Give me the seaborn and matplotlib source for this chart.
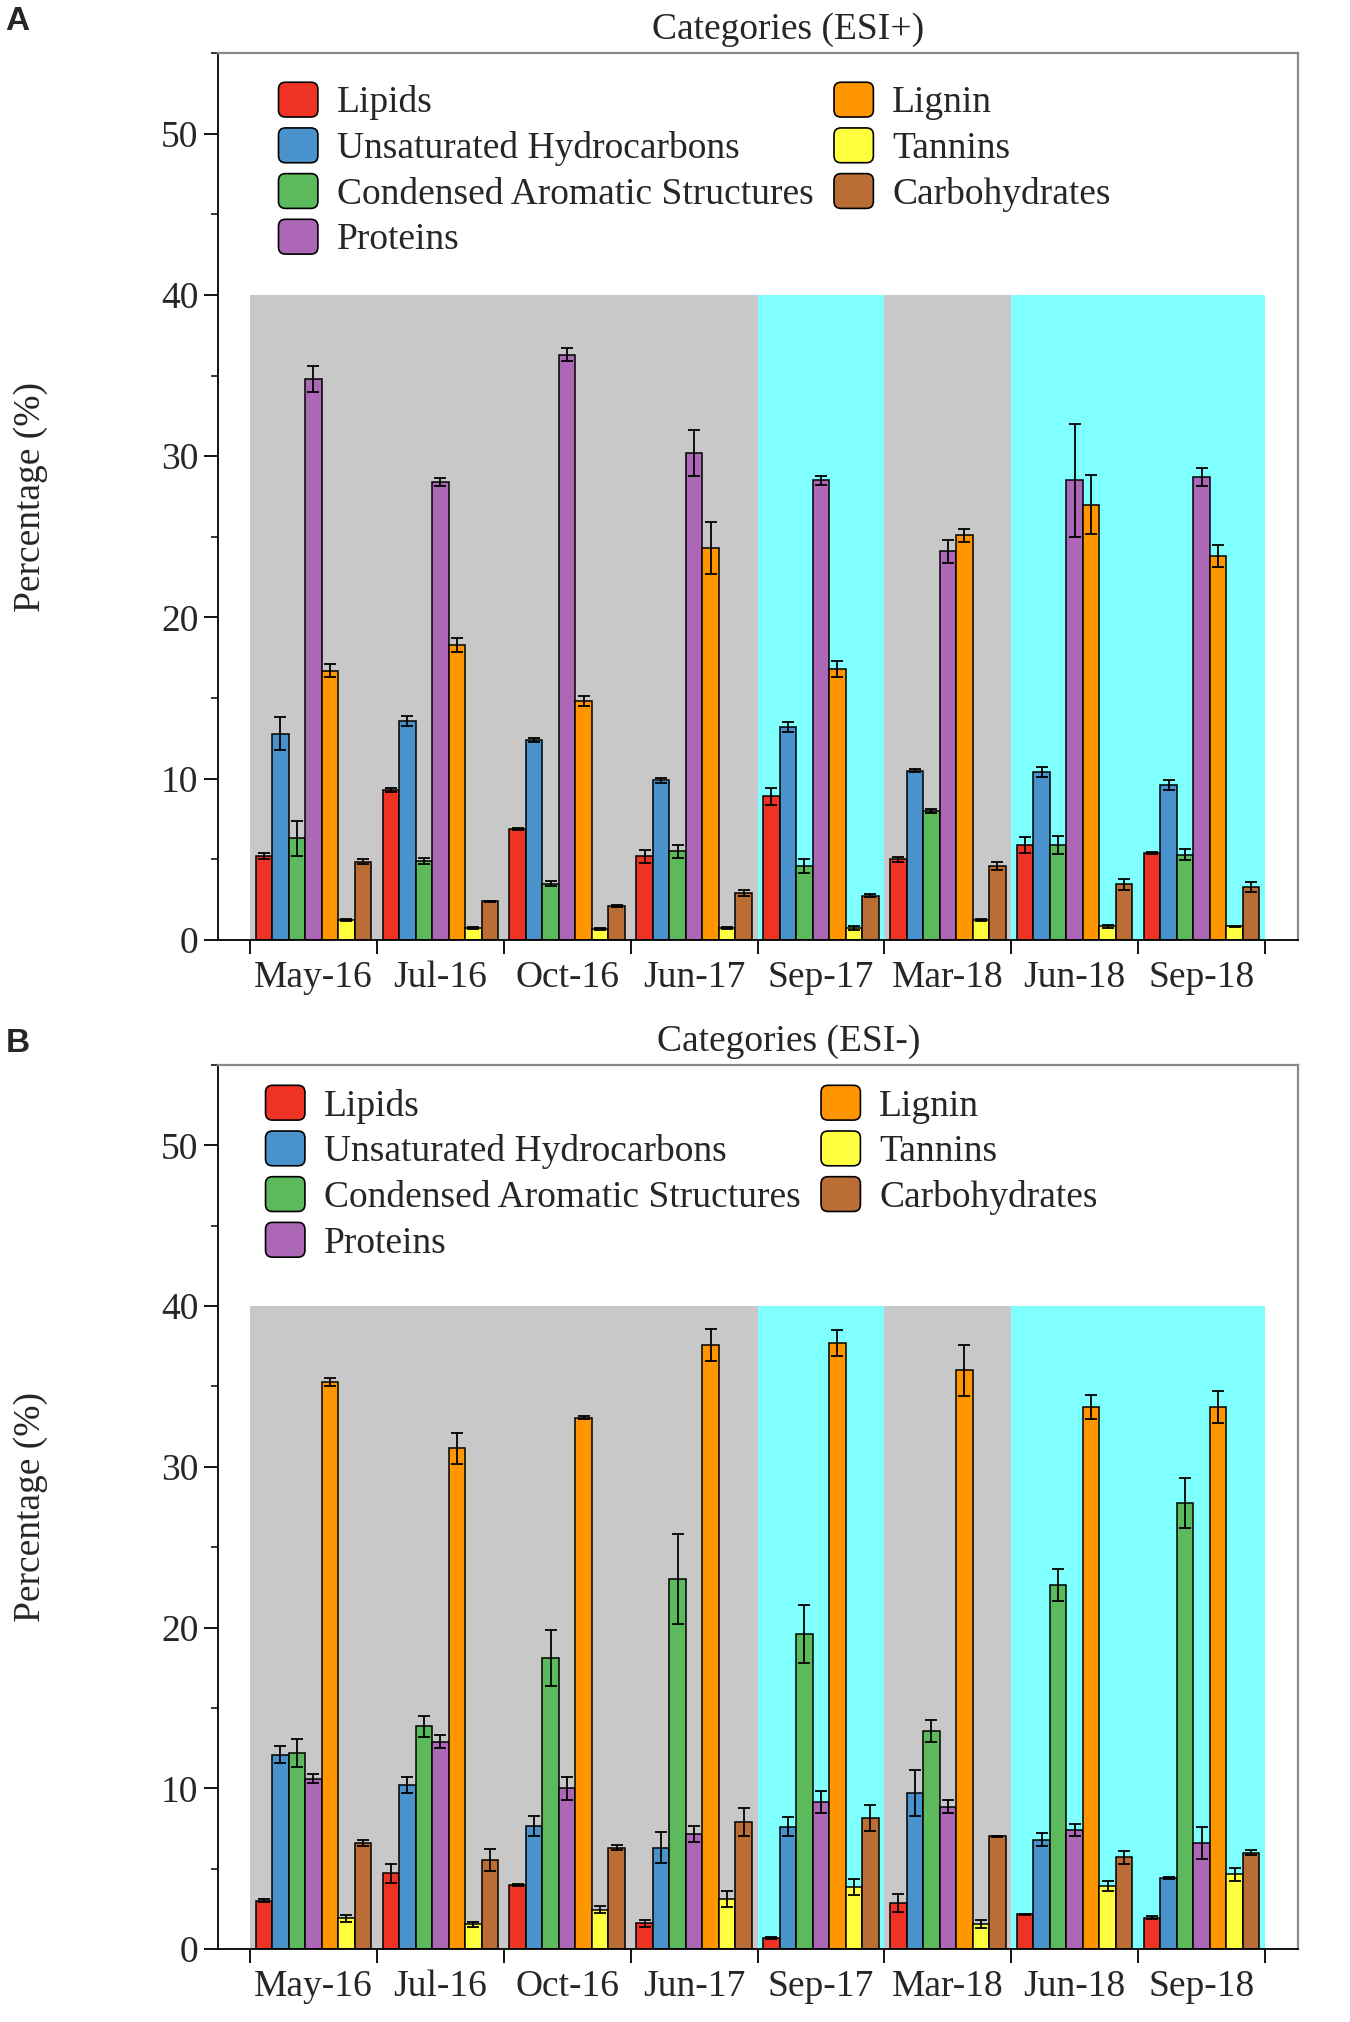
import matplotlib
matplotlib.use('Agg')
import matplotlib.pyplot as plt
from matplotlib.patches import FancyBboxPatch, Patch
from matplotlib.legend_handler import HandlerPatch
from matplotlib.ticker import MultipleLocator
import numpy as np
import pandas as pd
import seaborn as sns

sns.set_style('white')
plt.rcParams['font.family'] = ['Liberation Serif', 'DejaVu Serif']

# Data
dates = ['May-16', 'Jul-16', 'Oct-16', 'Jun-17', 'Sep-17', 'Mar-18', 'Jun-18', 'Sep-18']
categories = ['Lipids', 'Unsaturated Hydrocarbons', 'Condensed Aromatic Structures',
              'Proteins', 'Lignin', 'Tannins', 'Carbohydrates']
cat_colors = ['#EE3224', '#4A92CB', '#5DBA5C', '#AC67B6', '#FF9600', '#FFFF40', '#BA6E36']
# background band behind each sampling date
date_shade = ['#C8C8C8', '#C8C8C8', '#C8C8C8', '#C8C8C8',
              '#80FFFF', '#C8C8C8', '#80FFFF', '#80FFFF']

# ESI+ (rows follow `categories`, columns follow `dates`)
pos_mean = [
    [5.2, 9.3, 6.9, 5.2, 8.9, 5.0, 5.9, 5.4],          # Lipids
    [12.8, 13.6, 12.4, 9.9, 13.2, 10.5, 10.4, 9.6],    # Unsaturated Hydrocarbons
    [6.3, 4.9, 3.5, 5.5, 4.6, 8.0, 5.9, 5.3],          # Condensed Aromatic
    [34.8, 28.4, 36.3, 30.2, 28.5, 24.1, 28.5, 28.7],  # Proteins
    [16.7, 18.3, 14.8, 24.3, 16.8, 25.1, 27.0, 23.8],  # Lignin
    [1.25, 0.75, 0.7, 0.75, 0.75, 1.25, 0.85, 0.85],   # Tannins
    [4.85, 2.4, 2.1, 2.9, 2.75, 4.6, 3.45, 3.3],       # Carbohydrates
]
pos_err = [
    [0.2, 0.15, 0.05, 0.4, 0.55, 0.15, 0.5, 0.05],
    [1.0, 0.3, 0.1, 0.15, 0.3, 0.1, 0.3, 0.3],
    [1.1, 0.2, 0.15, 0.4, 0.45, 0.15, 0.55, 0.35],
    [0.8, 0.25, 0.4, 1.45, 0.3, 0.7, 3.5, 0.55],
    [0.4, 0.45, 0.3, 1.6, 0.5, 0.4, 1.85, 0.7],
    [0.05, 0.05, 0.05, 0.08, 0.1, 0.05, 0.08, 0.03],
    [0.15, 0.05, 0.05, 0.2, 0.1, 0.25, 0.35, 0.3],
]

# ESI-
neg_mean = [
    [3.0, 4.7, 4.0, 1.6, 0.7, 2.85, 2.15, 1.95],
    [12.1, 10.2, 7.65, 6.3, 7.6, 9.7, 6.8, 4.4],
    [12.2, 13.85, 18.1, 23.0, 19.6, 13.55, 22.65, 27.75],
    [10.6, 12.9, 10.0, 7.15, 9.15, 8.85, 7.4, 6.6],
    [35.25, 31.15, 33.05, 37.6, 37.7, 36.0, 33.7, 33.7],
    [1.9, 1.55, 2.45, 3.1, 3.85, 1.55, 3.9, 4.65],
    [6.6, 5.55, 6.3, 7.9, 8.15, 7.0, 5.7, 6.0],
]
neg_err = [
    [0.1, 0.6, 0.05, 0.2, 0.05, 0.55, 0.05, 0.1],
    [0.5, 0.5, 0.6, 0.95, 0.6, 1.45, 0.4, 0.05],
    [0.85, 0.65, 1.75, 2.8, 1.8, 0.7, 1.0, 1.55],
    [0.3, 0.4, 0.7, 0.5, 0.7, 0.4, 0.4, 1.0],
    [0.25, 0.95, 0.1, 1.0, 0.8, 1.6, 0.75, 1.0],
    [0.2, 0.15, 0.2, 0.5, 0.5, 0.25, 0.3, 0.4],
    [0.2, 0.7, 0.15, 0.9, 0.8, 0.05, 0.4, 0.15],
]

FS = 27


def round_box(legend, orig_handle, xdescent, ydescent, width, height, fontsize):
    r = 0.2 * height
    return FancyBboxPatch((-xdescent + r, -ydescent + r), width - 2 * r, height - 2 * r,
                          boxstyle=f'round,pad={r}')


def draw_panel(ax, mean, err, title, legend_at):
    for i, c in enumerate(date_shade):
        ax.axvspan(i - 0.5, i + 0.5, ymin=0, ymax=40 / 55, color=c, lw=0, zorder=0)

    df = pd.DataFrame({
        'date': np.tile(dates, len(categories)),
        'category': np.repeat(categories, len(dates)),
        'value': np.ravel(mean),
    })
    sns.barplot(data=df, x='date', y='value', hue='category', order=dates,
                hue_order=categories, palette=cat_colors, saturation=1, width=0.91,
                edgecolor='black', linewidth=1.1, errorbar=None, legend=False,
                ax=ax, zorder=2)

    for cont, e in zip(list(ax.containers), err):
        xs = [p.get_x() + p.get_width() / 2 for p in cont]
        ys = [p.get_height() for p in cont]
        ax.errorbar(xs, ys, yerr=e, fmt='none', ecolor='black', elinewidth=1.3,
                    capsize=4, capthick=1.3, zorder=3)

    ax.set_xlim(-0.752, 7.76)
    ax.set_ylim(0, 55)
    ax.set_facecolor('white')

    # x: ticks on the group boundaries, labels in the middle
    ax.set_xticks(np.arange(-0.5, 8, 1))
    ax.set_xticklabels([''] * 9)
    ax.set_xticks(np.arange(8), minor=True)
    ax.set_xticklabels(dates, minor=True, fontsize=FS)
    ax.tick_params(axis='x', which='major', direction='out', length=10, width=1.3,
                   bottom=True, color='black')
    ax.tick_params(axis='x', which='minor', length=0, pad=15)

    ax.yaxis.set_major_locator(MultipleLocator(10))
    ax.yaxis.set_minor_locator(MultipleLocator(5))
    ax.tick_params(axis='y', which='major', direction='out', length=10, width=1.3,
                   left=True, labelsize=FS, pad=4, color='black')
    ax.tick_params(axis='y', which='minor', direction='out', length=5, width=1.1,
                   left=True, color='black')

    ax.set_xlabel('')
    ax.set_ylabel('Percentage (%)', fontsize=FS)
    ax.yaxis.set_label_coords(-0.157, 0.5)
    ax.set_title(title, fontsize=FS, x=0.528, pad=10)

    for side in ['top', 'right']:
        ax.spines[side].set_visible(True)
        ax.spines[side].set_color('#8A8A8A')
        ax.spines[side].set_linewidth(1.6)
    for side in ['left', 'bottom']:
        ax.spines[side].set_visible(True)
        ax.spines[side].set_color('black')
        ax.spines[side].set_linewidth(1.3)

    handles = [Patch(facecolor=c, edgecolor='black', lw=1.2) for c in cat_colors]
    ax.legend(handles, categories, ncol=2, loc='upper left',
              bbox_to_anchor=legend_at, frameon=False, fontsize=FS,
              handlelength=1.05, handleheight=1.05, handletextpad=0.5,
              labelspacing=0.2, columnspacing=0.55, borderpad=0, borderaxespad=0,
              handler_map={Patch: HandlerPatch(patch_func=round_box)})


fig = plt.figure(figsize=(13.5, 20.22), dpi=100)
fig.patch.set_facecolor('white')
ax_a = fig.add_axes([0.1615, 0.5351, 0.800, 0.4387])
ax_b = fig.add_axes([0.1615, 0.0361, 0.800, 0.4372])

draw_panel(ax_a, pos_mean, pos_err, 'Categories (ESI+)', (0.056, 0.967))
draw_panel(ax_b, neg_mean, neg_err, 'Categories (ESI-)', (0.044, 0.977))

fig.text(0.004, 0.997, 'A', fontsize=24, fontweight='bold', va='top', ha='left',
         family=['Liberation Sans', 'DejaVu Sans'])
fig.text(0.004, 0.4915, 'B', fontsize=24, fontweight='bold', va='top', ha='left',
         family=['Liberation Sans', 'DejaVu Sans'])

fig.savefig('out.png', dpi=100, facecolor='white')
plt.close(fig)
print('Done!')
